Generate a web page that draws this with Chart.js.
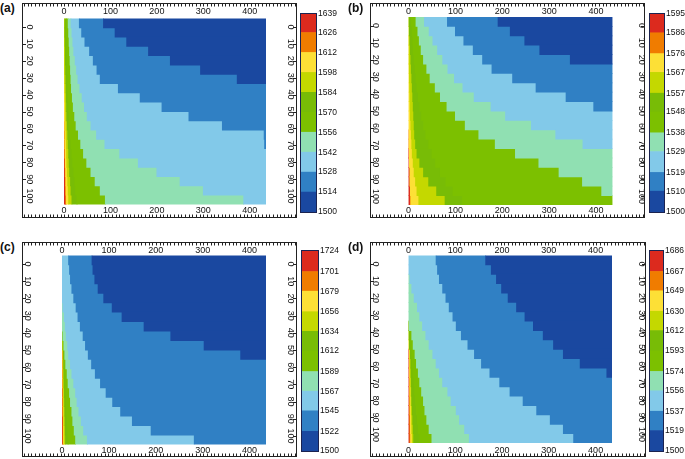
<!DOCTYPE html>
<html>
<head>
<meta charset="utf-8">
<script src="https://cdn.jsdelivr.net/npm/chart.js@4.4.0/dist/chart.umd.min.js"></script>
<style>
  body { margin: 0; background: #fff; }
  #fig { position: relative; width: 685px; height: 459px; overflow: hidden; background: #fff; }
  #fig canvas { position: absolute; }
  .tag { position: absolute; font: bold 12px 'Liberation Sans', Arial, sans-serif; color: #111; }
</style>
</head>
<body>
<div id="fig"></div>
<script>
const X_MAX = 435;
const rows = ['0-5','5-10','10-15','15-20','20-25','25-30','30-35','35-40','40-45','45-50',
              '50-55','55-60','60-65','65-70','70-75','75-80','80-85','85-90','90-95','95-100'];
const xTicks = [0, 100, 200, 300, 400];
const yTicks = [0, 10, 20, 30, 40, 50, 60, 70, 80, 90, 100];

// colour levels of each panel (bottom to top of the colour bar)
const levelsA = [1500, 1514, 1528, 1542, 1556, 1570, 1584, 1598, 1612, 1626, 1639];
const levelsB = [1500, 1510, 1519, 1529, 1538, 1548, 1557, 1567, 1576, 1586, 1595];
const levelsC = [1500, 1522, 1545, 1567, 1589, 1612, 1634, 1656, 1679, 1701, 1724];
const levelsD = [1500, 1519, 1537, 1556, 1574, 1593, 1612, 1630, 1649, 1667, 1686];

// x where the field drops below level k, one value per 5-unit row (top to bottom)
const aEdge1 = [85,110,135,182,229,294,373,435,435,435,435,435,435,435,435,435,435,435,435,435];
const aEdge2 = [33,38,45,55,63,71,78,117,164,211,269,341,431,432,435,435,435,435,435,435];
const aEdge3 = [15,17,19,21,24,27,30,34,39,44,50,58,70,88,120,160,200,250,300,387];
const aEdge4 = [9,10,11,12,13,14,15,16,18,20,23,26,31,36,42,49,58,67,78,89];
const aEdge5 = [5,5,6,6,7,7,8,8,9,10,11,12,13,15,17,19,21,23,25,28];
const aEdge6 = [2,2,2.5,3,3,3.5,4,4.5,5,5.5,6,7,8,9,10,11,12,14,15,17];
const aEdge7 = [0,0,0,0,1,1,1.5,2,2.5,3,3.5,4,4.5,5,5.5,6,7,8,9,10];
const aEdge8 = [0,0,0,0,0,0,0,0,0,0,1,1.5,2,2,2.5,3,3.5,4,4.5,5];
const aEdge9 = [0,0,0,0,0,0,0,0,0,0,0,0,1,1,1.5,2,2.5,3,3,3.5];

const bEdge1 = [191,217,248,280,345,435,435,435,435,435,435,435,435,435,435,435,435,435,435,435];
const bEdge2 = [83,100,118,138,158,178,222,272,336,395,435,435,435,435,435,435,435,435,435,435];
const bEdge3 = [34,44,52,62,73,84,98,116,140,176,207,262,314,372,435,435,435,435,435,435];
const bEdge4 = [16,20,23,27,32,39,46,57,68,82,100,121,150,185,228,278,321,371,412,435];
const bEdge5 = [6,8,9,10,12,14,16,18,21,24,28,32,37,43,50,58,68,80,95,115];
const bEdge6 = [1,2,3,4,5,6,7,8,9,10,11,12,13,15,18,24,32,43,60,78];
const bEdge7 = [0,0,0.5,1,1,1.5,2,2.5,3,3.5,4,5,6,7,8,10,12,15,18,22];
const bEdge8 = [0,0,0,0,0,0,0,0,0,0,0,0,1,1,2,2,3,3,4,5];
const bEdge9 = [0,0,0,0,0,0,0,0,0,0,0,0,0,0,1,2,3,3,4,4];

const cEdge1 = [64,66,70,77,89,107,128,175,232,303,381,435,435,435,435,435,435,435,435,435];
const cEdge2 = [14,16,18,21,25,30,34,39,45,50,56,63,71,82,94,108,125,150,190,282];
const cEdge3 = [0,0,0,0,0,2,5,7,9,12,14,18,21,25,29,32,36,41,46,54];
const cEdge4 = [0,0,0,0,0,0,0,0,2,4,6,8,11,13,16,18,21,23,26,29];
const cEdge5 = [0,0,0,0,0,0,0,0,1.5,3,4,5,6,7,8,9,10,11,12,13];
const cEdge6 = [0,0,0,0,0,0,0,0,1,2,3,3.5,4,4.5,5,5.5,6,6.5,7,7.5];
const cEdge7 = [0,0,0,0,0,0,0,0,0,1,2.5,2.5,3,3,3.5,3.5,4,4,4.5,4.5];
const cEdge8 = [0,0,0,0,0,0,0,0,0,0,2,2,2,2,2.5,2.5,2.5,3,3,3];
const cEdge9 = [0,0,0,0,0,0,0,0,0,0,1,1,1,1,1.5,1.5,1.5,2,2,2];

const dEdge1 = [165,177,188,199,213,231,249,267,288,310,331,367,424,435,435,435,435,435,435,435];
const dEdge2 = [59,62,66,73,80,87,95,102,113,127,141,156,174,195,217,245,274,303,331,353];
const dEdge3 = [0,0,3,7,12,19,24,30,37,44,52,59,66,73,84,91,102,109,120,130];
const dEdge4 = [0,0,0,0,0,0,0,1.5,7,10,14,17,21,24,28,32,35,39,44,50];
const dEdge5 = [0,0,0,0,0,0,0,0.5,3,5,7,8,10,12,13,15,17,19,21,24];
const dEdge6 = [0,0,0,0,0,0,0,0,1,2,4,5,5.5,6,6.5,7,8,9,10,11];
const dEdge7 = [0,0,0,0,0,0,0,0,0,1,3,3.5,4,4.5,5,5.5,6,6.5,7,8];
const dEdge8 = [0,0,0,0,0,0,0,0,0,0,2,2.5,2.5,3,3,3.5,3.5,4,4,4.5];
const dEdge9 = [0,0,0,0,0,0,0,0,0,0,1,1.5,1.5,2,2,2,2.5,2.5,3,3];

// low -> high
const bandColors = ['#1a48a0', '#3080c4', '#82c9e9', '#90e0b2', '#7cc000',
                    '#78bc06', '#c4d800', '#fde036', '#f07c00', '#dc2a1e'];

const FONT = { family: "'Liberation Sans', Arial, sans-serif", size: 9 };
const BAR_FONT = { family: "'Liberation Sans', Arial, sans-serif", size: 8.5 };

const panels = [
  { tag: '(a)', tagAt: [0, 1], frame: [22, 3, 297, 218], heat: [64, 18.5, 266, 204.5],
    labX: [29, 290], labY: [12, 211], bar: [301, 13.5, 316, 211.5],
    levels: levelsA, edges: [aEdge1, aEdge2, aEdge3, aEdge4, aEdge5, aEdge6, aEdge7, aEdge8, aEdge9] },
  { tag: '(b)', tagAt: [348, 1], frame: [370, 3, 645, 218], heat: [408.5, 17, 612.5, 205],
    labX: [375, 641.5], labY: [11.5, 211], bar: [650, 13.5, 664, 211.5],
    levels: levelsB, edges: [bEdge1, bEdge2, bEdge3, bEdge4, bEdge5, bEdge6, bEdge7, bEdge8, bEdge9] },
  { tag: '(c)', tagAt: [0, 240], frame: [22, 242, 297, 457], heat: [62, 255.5, 266, 444.5],
    labX: [27, 290], labY: [250.5, 451], bar: [302, 251, 318, 451],
    levels: levelsC, edges: [cEdge1, cEdge2, cEdge3, cEdge4, cEdge5, cEdge6, cEdge7, cEdge8, cEdge9] },
  { tag: '(d)', tagAt: [348, 240], frame: [370, 242, 646, 457], heat: [408.5, 255.5, 612, 443],
    labX: [375, 641.5], labY: [250.5, 451], bar: [650, 251, 663, 451],
    levels: levelsD, edges: [dEdge1, dEdge2, dEdge3, dEdge4, dEdge5, dEdge6, dEdge7, dEdge8, dEdge9] }
];

function textW(s) {
  const c = document.createElement('canvas').getContext('2d');
  c.font = FONT.size + 'px ' + FONT.family;
  return c.measureText(s).width;
}

const framePlugin = {
  id: 'frame',
  afterDraw(chart) {
    const { ctx, width, height } = chart;
    ctx.save();
    ctx.strokeStyle = '#222';
    ctx.lineWidth = 1;
    ctx.strokeRect(0.5, 0.5, width - 1, height - 1);
    const n = Math.round((width - 4) / 3.67);
    const step = (width - 4) / n;
    ctx.beginPath();
    for (let i = 0; i <= n; i++) {
      const x = Math.round(2 + i * step) + 0.5;
      ctx.moveTo(x, 0); ctx.lineTo(x, 3.5);
      ctx.moveTo(x, height); ctx.lineTo(x, height - 3.5);
    }
    const yl = chart.scales.yL;
    yTicks.forEach(v => {
      const y = Math.round(yl.getPixelForValue(v)) + 0.5;
      ctx.moveTo(0, y); ctx.lineTo(4, y);
      ctx.moveTo(width, y); ctx.lineTo(width - 4, y);
    });
    ctx.stroke();
    ctx.restore();
  }
};

const outlinePlugin = {
  id: 'outline',
  afterDatasetsDraw(chart) {
    const { ctx, chartArea: a } = chart;
    ctx.save();
    ctx.strokeStyle = '#1b2350';
    ctx.lineWidth = 1;
    ctx.strokeRect(Math.round(a.left) - 0.5, Math.round(a.top) - 0.5,
                   Math.round(a.right - a.left) + 1, Math.round(a.bottom - a.top) + 1);
    ctx.restore();
  }
};

function bandSets(edges) {
  const right = rows.map(() => X_MAX);
  const left = rows.map(() => 0);
  const e = [right, ...edges, left];
  return bandColors.map((c, k) => ({
    data: rows.map((r, i) => (e[k + 1][i] < e[k][i] ? [e[k + 1][i], e[k][i]] : null)),
    backgroundColor: c,
    barPercentage: 1,
    categoryPercentage: 1,
    grouped: false,
    inflateAmount: 0.4
  }));
}

function addCanvas(l, t, w, h) {
  const cv = document.createElement('canvas');
  cv.width = w; cv.height = h;
  cv.style.left = l + 'px'; cv.style.top = t + 'px';
  document.getElementById('fig').appendChild(cv);
  return cv;
}

// fix an axis box size and drop the label overhang padding
const fixBox = (w, h) => s => {
  if (w !== null) s.width = w;
  if (h !== null) s.height = h;
  s.paddingTop = 0; s.paddingBottom = 0; s.paddingLeft = 0; s.paddingRight = 0;
};

const noGrid = { display: false, drawTicks: false };

function drawPanel(p) {
  const [fl, ft, fr, fb] = p.frame;
  const [hl, ht, hr, hb] = p.heat;
  const cv = addCanvas(fl, ft, fr - fl, fb - ft);
  const half = textW('100') / 2;
  const lh = FONT.size * 1.2;
  const tk = (pad, extra) => Object.assign({ font: FONT, color: '#111', padding: Math.max(0, pad), autoSkip: false }, extra);
  const setX = s => { s.ticks = xTicks.map(v => ({ value: v })); };
  const setY = s => { s.ticks = yTicks.map(v => ({ value: v })); };

  new Chart(cv, {
    type: 'bar',
    data: { labels: rows, datasets: bandSets(p.edges) },
    options: {
      indexAxis: 'y',
      animation: false,
      responsive: false,
      plugins: { legend: { display: false }, tooltip: { enabled: false } },
      layout: { padding: 0 },
      scales: {
        y: { type: 'category', display: false },
        x: {
          type: 'linear', position: 'bottom', min: 0, max: X_MAX,
          grid: noGrid, border: { display: false },
          ticks: tk(p.labY[1] - hb - lh / 2, { maxRotation: 0 }),
          afterBuildTicks: setX,
          afterFit: fixBox(null, fb - hb)
        },
        xTop: {
          type: 'linear', position: 'top', min: 0, max: X_MAX,
          grid: noGrid, border: { display: false },
          ticks: tk(ht - p.labY[0] - lh / 2, { maxRotation: 0 }),
          afterBuildTicks: setX,
          afterFit: fixBox(null, ht - ft)
        },
        yL: {
          type: 'linear', position: 'left', min: 0, max: 100, reverse: true,
          grid: noGrid, border: { display: false },
          ticks: tk(hl - p.labX[0] - half, { minRotation: -90, maxRotation: -90, crossAlign: 'center' }),
          afterBuildTicks: setY,
          afterFit: fixBox(hl - fl, null)
        },
        yR: {
          type: 'linear', position: 'right', min: 0, max: 100, reverse: true,
          grid: noGrid, border: { display: false },
          ticks: tk(p.labX[1] - hr - half, { minRotation: -90, maxRotation: -90, crossAlign: 'center' }),
          afterBuildTicks: setY,
          afterFit: fixBox(fr - hr, null)
        }
      }
    },
    plugins: [framePlugin]
  });

  // colour bar
  const [bl, bt, br, bb] = p.bar;
  const cl = bl - 1, ctop = bt - 8;
  const cb = addCanvas(cl, ctop, 685 - cl, bb - bt + 16);
  const lv = p.levels;
  new Chart(cb, {
    type: 'bar',
    data: {
      labels: [''],
      datasets: bandColors.map((c, k) => ({
        data: [[lv[k], lv[k + 1]]],
        backgroundColor: c,
        barPercentage: 1,
        categoryPercentage: 1,
        grouped: false
      }))
    },
    options: {
      animation: false,
      responsive: false,
      plugins: { legend: { display: false }, tooltip: { enabled: false } },
      layout: { padding: { left: 1, top: 8, bottom: 8, right: 0 } },
      scales: {
        x: { display: false },
        y: {
          position: 'right', min: lv[0], max: lv[lv.length - 1],
          grid: noGrid, border: { display: false },
          ticks: { font: BAR_FONT, color: '#111', padding: 2, autoSkip: false, callback: v => String(v) },
          afterBuildTicks: s => { s.ticks = lv.map(v => ({ value: v })); },
          afterFit: fixBox((685 - cl) - 1 - (br - bl), null)
        }
      }
    },
    plugins: [outlinePlugin]
  });

  const tag = document.createElement('div');
  tag.className = 'tag';
  tag.textContent = p.tag;
  tag.style.left = p.tagAt[0] + 'px';
  tag.style.top = p.tagAt[1] + 'px';
  document.getElementById('fig').appendChild(tag);
}

panels.forEach(drawPanel);
</script>
</body>
</html>
